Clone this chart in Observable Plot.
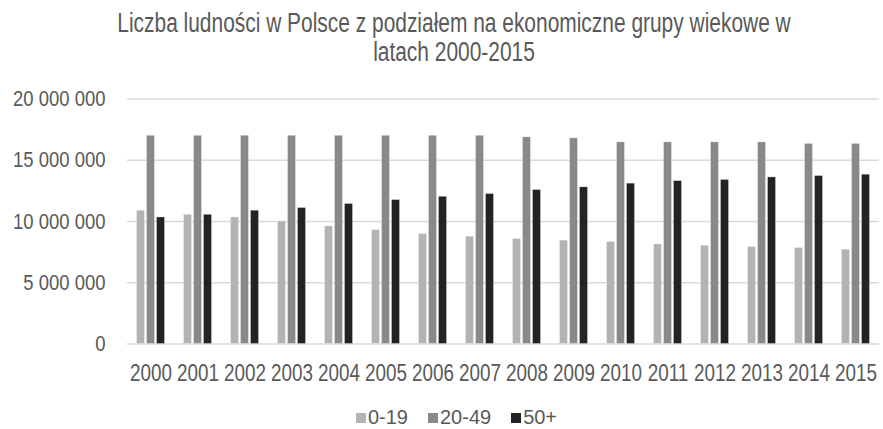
<!DOCTYPE html>
<html>
<head>
<meta charset="utf-8">
<script src="https://cdn.jsdelivr.net/npm/d3@7"></script>
<script src="https://cdn.jsdelivr.net/npm/@observablehq/plot@0.6"></script>
<style>
  html, body { margin: 0; padding: 0; background: #fff; }
  body { width: 883px; height: 429px; overflow: hidden; position: relative;
         font-family: "Liberation Sans", Arial, sans-serif; color: #595959; }
  #titlebox { height: 80px; position: relative; }
  #title { position: absolute; left: 454px; top: 9px; white-space: nowrap; text-align: center;
           font-size: 27px; line-height: 29px; color: #595959;
           transform: translateX(-50%) scaleX(0.775); transform-origin: center; }
  #chart svg { display: block; }
  #legend { height: 29px; padding-left: 50px; box-sizing: border-box; }
  .lg-swatches { margin: 0 !important; font-size: 20px !important; color: #595959 !important;
                 font-family: "Liberation Sans", Arial, sans-serif !important; }
  .lg-swatches-wrap { min-height: 0 !important; height: 29px; justify-content: center; align-items: flex-end !important; }
  .lg-swatch { margin-right: 20px !important; line-height: 23px; }
  .lg-swatch > svg { margin-right: 2px !important; }
</style>
</head>
<body>
<div id="titlebox"><div id="title">Liczba ludności w Polsce z podziałem na ekonomiczne grupy wiekowe w<br>latach 2000-2015</div></div>
<div id="chart"></div>
<div id="legend"></div>
<script>
const years = [2000, 2001, 2002, 2003, 2004, 2005, 2006, 2007, 2008, 2009, 2010, 2011, 2012, 2013, 2014, 2015];
const groups = ["0-19", "20-49", "50+"];
const v0_19 = [10880000, 10550000, 10330000, 10000000, 9600000, 9300000, 8980000, 8760000,
               8570000, 8440000, 8330000, 8130000, 8020000, 7920000, 7840000, 7700000];
const v20_49 = [17000000, 17000000, 17000000, 17000000, 17000000, 17000000, 17000000, 17000000,
                16870000, 16790000, 16460000, 16460000, 16460000, 16460000, 16330000, 16330000];
const v50plus = [10330000, 10550000, 10880000, 11100000, 11430000, 11750000, 12020000, 12240000,
                 12570000, 12790000, 13090000, 13300000, 13390000, 13600000, 13710000, 13820000];
const yTicks = [0, 5000000, 10000000, 15000000, 20000000];
const colors = ["#b3b3b3", "#898989", "#232323"];

const series = [v0_19, v20_49, v50plus];
const table = years.flatMap((yr, i) => groups.map((g, j) => ({year: yr, group: g, value: series[j][i]})));

const fmt = d3.formatLocale({thousands: " ", grouping: [3], decimal: ","}).format(",d");
const font = '"Liberation Sans", Arial, sans-serif';

const chart = Plot.plot({
  width: 883,
  height: 320,
  marginTop: 18.5,
  marginBottom: 56.5,
  marginLeft: 123.5,
  marginRight: 0,
  style: {fontFamily: font, fontSize: "23px", color: "#595959", background: "white", overflow: "visible"},
  fx: {domain: years, paddingInner: 0, paddingOuter: 0, label: null, axis: "bottom",
       tickSize: 0, tickPadding: 21, tickFormat: d => `${d}`},
  x: {domain: groups, paddingInner: 0.25, paddingOuter: 0.845, axis: null},
  y: {domain: [0, 20000000], ticks: yTicks, tickFormat: fmt, tickSize: 0, tickPadding: 22, label: null},
  color: {domain: groups, range: colors},
  marks: [
    Plot.gridY(yTicks, {stroke: "#d9d9d9", strokeOpacity: 1, strokeWidth: 1.3}),
    Plot.barY(table, {fx: "year", x: "group", y: "value", fill: "group",
                      stroke: "#ffffff", strokeWidth: 0.6, strokeOpacity: 0.5})
  ]
});
document.getElementById("chart").appendChild(chart);

// narrow the axis labels horizontally (condensed look), scaling about each label's anchor
function narrow(selector, sx, size) {
  chart.querySelectorAll(selector).forEach(g => {
    g.setAttribute("font-size", size);
    g.querySelectorAll("text").forEach(t => {
      const tr = t.getAttribute("transform") || "";
      t.setAttribute("transform", tr + ` scale(${sx},1)`);
    });
  });
}
narrow('g[aria-label="fx-axis tick label"]', 0.82, 23);
narrow('g[aria-label="y-axis tick label"]', 0.84, 22);

const legend = Plot.legend({
  color: {domain: groups, range: colors},
  legend: "swatches",
  swatchSize: 10,
  className: "lg"
});
document.getElementById("legend").appendChild(legend);
</script>
</body>
</html>
